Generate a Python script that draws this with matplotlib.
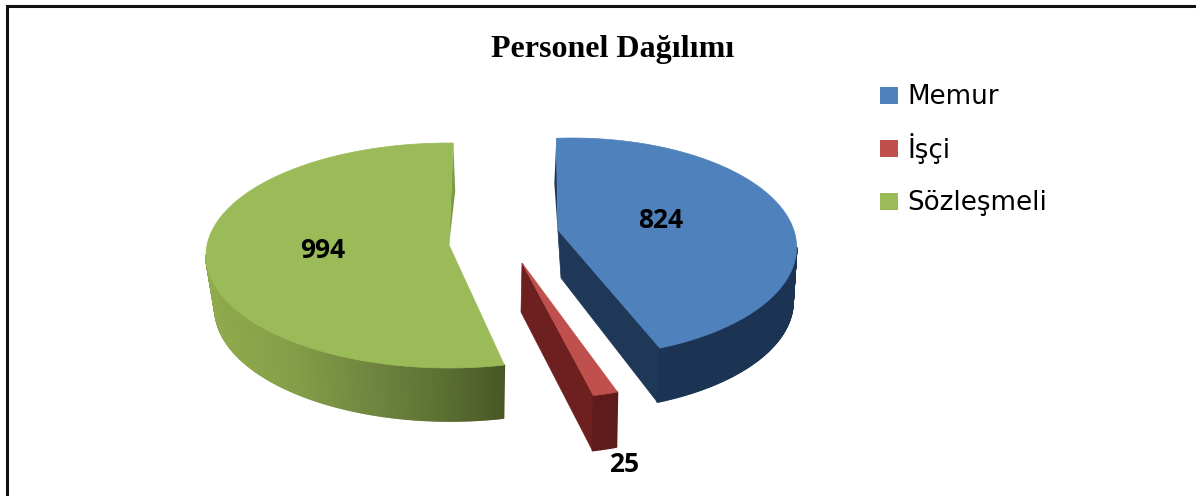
import numpy as np
import matplotlib
matplotlib.use("Agg")
import matplotlib.pyplot as plt
from matplotlib.collections import PolyCollection
from matplotlib.colors import to_rgb
from matplotlib.patches import Polygon, Rectangle

# ---- data ----
categories = ["Memur", "İşçi", "Sözleşmeli"]
values = [824, 25, 994]
title = "Personel Dağılımı"

# ---- style ----
top_colors = ["#4F81BD", "#C0504D", "#9BBB59"]
# per-slice projection of the exploded 3-D pie (pixel space of the canvas)
geom = [
    dict(cx=572, cy=247.4, rx=224.6, ry=109.4, rot=-4, apex=(558, 230),
         bcx=570, brx=223, dz=54, apex_b=(561, 278)),
    dict(cx=500, cy=281.6, rx=300, ry=120, rot=-4, apex=(522, 263),
         bcx=499, brx=300, dz=55, apex_b=(521, 312)),
    dict(cx=449, cy=255.5, rx=243, ry=112.5, rot=1, apex=(449, 245),
         bcx=450, brx=235, dz=53, apex_b=(449, 298)),
]
wall_stops = [
    [(560, "#1C3454"), (800, "#1C3454")],
    [(590, "#5F1B1B"), (620, "#5F1B1B")],
    [(206, "#8FAB4C"), (290, "#849E48"), (370, "#708540"),
     (440, "#5C7032"), (503, "#495826")],
]
inner_colors = ["#1F3858", "#6E2020", None]

fig = plt.figure(figsize=(11.96, 4.96), dpi=100)
ax = fig.add_axes([0, 0, 1, 1])
ax.set_xlim(0, 1196)
ax.set_ylim(496, 0)
ax.axis("off")


def top_pt(g, a):
    r = np.radians(a)
    return np.c_[g["cx"] + g["rx"] * np.sin(r), g["cy"] - g["ry"] * np.cos(r)]


def base_pt(g, a):
    r = np.radians(a)
    return np.c_[g["bcx"] + g["brx"] * np.sin(r), g["cy"] + g["dz"] - g["ry"] * np.cos(r)]


def wall_color(stops, x):
    xs = [s[0] for s in stops]
    cols = np.array([to_rgb(s[1]) for s in stops])
    return [np.interp(x, xs, cols[:, i]) for i in range(3)]


total = sum(values)
edges = np.cumsum([0] + values) / total * 360

for i in range(len(values)):
    g = geom[i]
    a0, a1 = edges[i] + g["rot"], edges[i + 1] + g["rot"]
    apex = np.array(g["apex"], float)
    apex_b = np.array(g["apex_b"], float)

    # thin rear cut-face slivers
    if i == 0:
        p = top_pt(g, a0)[0]
        ax.add_patch(Polygon([p, p + (-2, 45), apex_b, apex], closed=True,
                             fc="#1F3858", ec="none", zorder=1))
    if i == 2:
        p = top_pt(g, a1)[0]
        ax.add_patch(Polygon([p, p + (2, 48), apex], closed=True,
                             fc="#7F9A45", ec="none", zorder=1))

    # leading cut face
    if inner_colors[i]:
        ax.add_patch(Polygon([apex, apex_b, base_pt(g, a1)[0], top_pt(g, a1)[0]],
                             closed=True, fc=inner_colors[i], ec=inner_colors[i],
                             lw=0.5, zorder=2))

    # outer rim: only the part facing the viewer
    lo, hi = max(a0, 90), min(a1, 270)
    ang = np.linspace(lo, hi, max(int((hi - lo) * 2), 2) + 1)
    t, b = top_pt(g, ang), base_pt(g, ang)
    quads, cols = [], []
    for j in range(len(ang) - 1):
        quads.append([t[j], t[j + 1], b[j + 1], b[j]])
        cols.append(wall_color(wall_stops[i], (t[j][0] + t[j + 1][0]) / 2))
    ax.add_collection(PolyCollection(quads, facecolors=cols, edgecolors=cols,
                                     linewidths=1.2, zorder=3))

    # top face
    ang = np.linspace(a0, a1, 200)
    ax.add_patch(Polygon(np.vstack([apex, top_pt(g, ang)]), closed=True,
                         fc=top_colors[i], ec=top_colors[i], lw=0.5, zorder=4))

# value labels
label_pos = [(661, 221), (624, 464), (323, 250)]
for v, (x, y) in zip(values, label_pos):
    ax.text(x, y, str(v), ha="center", va="center", fontsize=19,
            fontweight="bold", family="Open Sans", color="black", zorder=6)

# title
ax.text(613, 50, title, ha="center", va="center", fontsize=23,
        fontweight="bold", family="Liberation Serif", color="black")

# legend
legend_rows = [95, 148.5, 201.5]
for name, color, y in zip(categories, top_colors, legend_rows):
    ax.add_patch(Rectangle((880, y - 8.5), 18, 17, fc=color, ec="none"))
    ax.text(907, y + 9, name, ha="left", va="baseline", fontsize=18.8,
            family="DejaVu Sans", color="black")

# outer frame: left and top edges only
ax.plot([6.5, 6.5, 1196], [496, 5.5, 5.5], color="#111111", lw=2.2,
        solid_joinstyle="miter", zorder=7)

fig.savefig("out.png", dpi=100, facecolor="white")
